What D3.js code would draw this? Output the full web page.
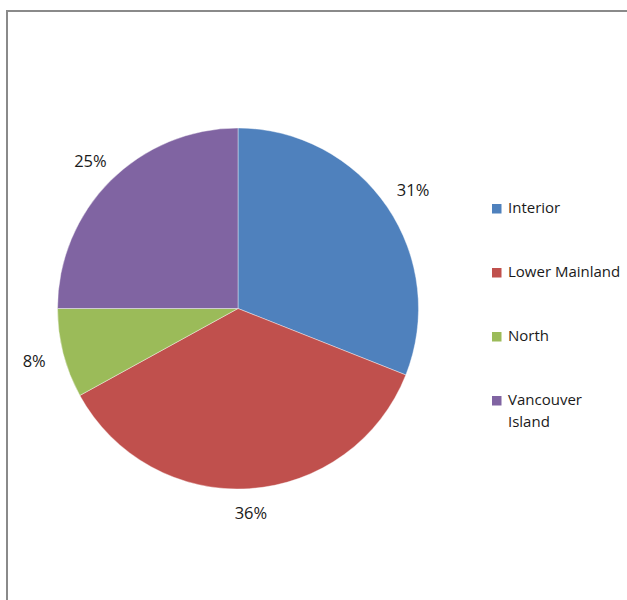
<!DOCTYPE html>
<html>
<head>
<meta charset="utf-8">
<script src="https://cdn.jsdelivr.net/npm/d3@7"></script>
<style>
  html, body { margin: 0; padding: 0; background: #fff; }
  svg { display: block; }
</style>
</head>
<body>
<svg id="chart" width="627" height="600"></svg>
<script>
// Share of total by health region
const categories = ["Interior", "Lower Mainland", "North", "Vancouver Island"];
const shares = [31, 36, 8, 25];
const sliceLabels = ["31%", "36%", "8%", "25%"];
const legendLines = [["Interior"], ["Lower Mainland"], ["North"], ["Vancouver", "Island"]];
const palette = ["#4F81BD", "#C0504D", "#9BBB59", "#8064A2"];

const svg = d3.select("#chart");
const W = 627, H = 600;

// chart frame (runs off the right and bottom edges)
svg.append("rect")
  .attr("x", 7).attr("y", 11)
  .attr("width", W + 20).attr("height", H + 20)
  .attr("fill", "#fff")
  .attr("stroke", "#8a8a8a")
  .attr("stroke-width", 2);

const cx = 238, cy = 308.5, r = 180.5;
const color = d3.scaleOrdinal().domain(categories).range(palette);

const pie = d3.pie().sort(null).value(d => d.v);
const data = categories.map((c, i) => ({ c, v: shares[i], label: sliceLabels[i] }));
const arcs = pie(data);
const arc = d3.arc().innerRadius(0).outerRadius(r);

const g = svg.append("g").attr("transform", `translate(${cx},${cy})`);
g.selectAll("path.slice")
  .data(arcs)
  .join("path")
  .attr("class", "slice")
  .attr("d", arc)
  .attr("fill", d => color(d.data.c))
  .attr("stroke", "#ffffff")
  .attr("stroke-width", 0.4);

// outside-end percentage labels: the label box sits a fixed gap beyond the rim
const fontSize = 16.5, capH = 0.72 * fontSize, gap = 17;
const labels = g.selectAll("text.pct")
  .data(arcs)
  .join("text")
  .attr("class", "pct")
  .attr("text-anchor", "middle")
  .attr("font-family", "'Open Sans', sans-serif")
  .attr("font-size", fontSize)
  .attr("fill", "#1a1a1a")
  .text(d => d.data.label);

labels.each(function (d) {
  const w = this.getComputedTextLength();
  const hw = w / 2 + 1, hh = capH / 2 + 2;
  const a = (d.startAngle + d.endAngle) / 2;
  const s = Math.sin(a), c = -Math.cos(a);
  const ext = Math.min(Math.abs(s) > 1e-6 ? hw / Math.abs(s) : Infinity,
                       Math.abs(c) > 1e-6 ? hh / Math.abs(c) : Infinity);
  const dist = r + gap + ext;
  const x = s * dist, y = c * dist;
  d3.select(this).attr("x", x).attr("y", y + capH / 2);
});

// legend
const legend = svg.append("g").attr("transform", "translate(492,0)");
const rowY = d3.scalePoint().domain(categories).range([213, 405]);
const items = legend.selectAll("g.item")
  .data(categories)
  .join("g")
  .attr("class", "item")
  .attr("transform", d => `translate(0,${rowY(d)})`);
items.append("rect")
  .attr("x", 0).attr("y", -9)
  .attr("width", 9.5).attr("height", 9.5)
  .attr("fill", d => color(d));
items.append("text")
  .attr("x", 16).attr("y", 0)
  .attr("font-family", "'Open Sans', sans-serif")
  .attr("font-size", 15)
  .attr("fill", "#1a1a1a")
  .selectAll("tspan")
  .data((d, i) => legendLines[i])
  .join("tspan")
  .attr("x", 16)
  .attr("dy", (d, i) => i === 0 ? 0 : 22)
  .text(d => d);
</script>
</body>
</html>
